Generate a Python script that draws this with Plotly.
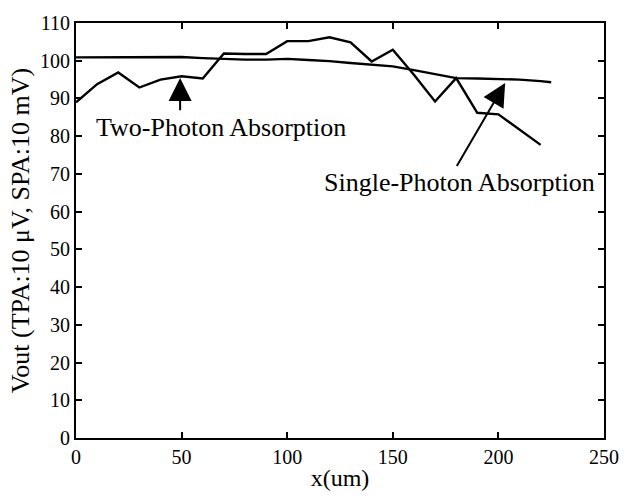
import plotly.graph_objects as go

# Single-Photon Absorption (wiggly curve)
spa_x = [0, 10, 20, 30, 40, 50, 60, 70, 80, 90, 100, 110, 120, 130, 140, 150, 160, 170, 180, 190, 200, 210, 220]
spa_y = [89.0, 93.8, 96.9, 92.9, 95.0, 95.9, 95.3, 101.9, 101.8, 101.8, 105.2, 105.2, 106.2, 104.9, 99.8, 102.9, 96.3, 89.2, 95.4, 86.2, 85.8, 81.8, 77.7]

# Two-Photon Absorption (smooth curve)
tpa_x = [0, 10, 20, 30, 40, 50, 60, 70, 80, 90, 100, 110, 120, 130, 140, 150, 160, 170, 180, 190, 200, 210, 220, 225]
tpa_y = [100.9, 100.9, 100.9, 100.9, 101.1, 101.0, 100.7, 100.4, 100.3, 100.3, 100.5, 100.2, 99.9, 99.4, 98.9, 98.5, 97.5, 96.5, 95.4, 95.3, 95.2, 95.0, 94.6, 94.3]

x_ticks = [0, 50, 100, 150, 200, 250]
y_ticks = [0, 10, 20, 30, 40, 50, 60, 70, 80, 90, 100, 110]

FONT = "Liberation Serif, Times New Roman, serif"

fig = go.Figure()
fig.add_trace(go.Scatter(x=spa_x, y=spa_y, mode="lines",
                         line=dict(color="black", width=2.4), showlegend=False))
fig.add_trace(go.Scatter(x=tpa_x, y=tpa_y, mode="lines",
                         line=dict(color="black", width=2.4), showlegend=False))

# arrows
fig.add_annotation(x=49.3, y=95.4, ax=49.3, ay=86.5, xref="x", yref="y",
                   axref="x", ayref="y", text="", showarrow=True,
                   arrowhead=2, arrowsize=2.3, arrowwidth=2, arrowcolor="black")
fig.add_annotation(x=203.2, y=94.1, ax=179.9, ay=71.7, xref="x", yref="y",
                   axref="x", ayref="y", text="", showarrow=True,
                   arrowhead=2, arrowsize=2.3, arrowwidth=2, arrowcolor="black")
# texts
fig.add_annotation(x=68.5, y=82.2, xref="x", yref="y", text="Two-Photon Absorption",
                   showarrow=False, font=dict(family=FONT, size=26, color="black"))
fig.add_annotation(x=181.5, y=67.8, xref="x", yref="y", text="Single-Photon Absorption",
                   showarrow=False, font=dict(family=FONT, size=26, color="black"))

fig.update_layout(
    width=631, height=499,
    margin=dict(l=76, r=19, t=16, b=59),
    paper_bgcolor="white", plot_bgcolor="white",
    font=dict(family=FONT, size=20, color="black"),
)
fig.update_xaxes(range=[0, 250], tickvals=x_ticks, ticktext=[str(v) for v in x_ticks],
                 showgrid=False, zeroline=False, showline=True, linecolor="black",
                 linewidth=2, mirror="allticks", ticks="inside", ticklen=6,
                 tickwidth=1.5, tickcolor="black",
                 title=dict(text="x(um)", font=dict(size=24), standoff=2))
fig.update_yaxes(range=[0, 110], tickvals=y_ticks, ticktext=[str(v) for v in y_ticks],
                 showgrid=False, zeroline=False, showline=True, linecolor="black",
                 linewidth=2, mirror="allticks", ticks="inside", ticklen=6,
                 tickwidth=1.5, tickcolor="black",
                 title=dict(text="Vout (TPA:10 μV, SPA:10 mV)", font=dict(size=26), standoff=3))

fig.write_html("out.html")
